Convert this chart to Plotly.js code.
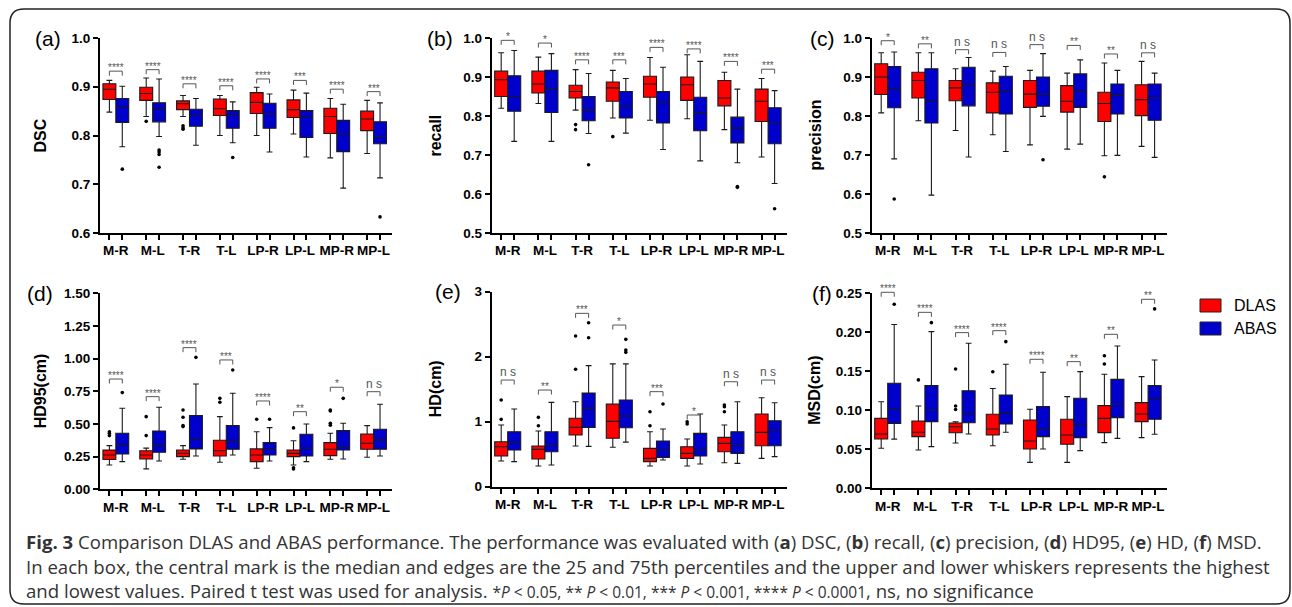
<!DOCTYPE html>
<html>
<head>
<meta charset="utf-8">
<script src="https://cdn.plot.ly/plotly-3.0.1.min.js"></script>
<style>html,body{margin:0;padding:0;background:#fff;}#chart{width:1292px;height:607px;}</style>
</head>
<body>
<div id="chart"></div>
<script>
// ---------------- DATA ----------------
const categories = ['M-R','M-L','T-R','T-L','LP-R','LP-L','MP-R','MP-L'];
const seriesNames = ['DLAS','ABAS'];
// each row: [lower whisker, q1, median, q3, upper whisker]
const dsc_DLAS = [[0.848,0.874,0.895,0.906,0.913],[0.839,0.872,0.886,0.899,0.918],[0.839,0.853,0.865,0.871,0.882],[0.800,0.841,0.855,0.875,0.882],[0.800,0.845,0.868,0.888,0.899],[0.803,0.837,0.853,0.873,0.893],[0.754,0.804,0.839,0.856,0.876],[0.763,0.810,0.834,0.850,0.872]];
const dsc_ABAS = [[0.777,0.827,0.858,0.876,0.901],[0.798,0.828,0.854,0.867,0.916],[0.780,0.819,0.841,0.854,0.876],[0.785,0.815,0.841,0.851,0.869],[0.766,0.815,0.844,0.866,0.885],[0.756,0.796,0.837,0.851,0.887],[0.692,0.767,0.803,0.831,0.864],[0.713,0.783,0.798,0.828,0.867]];
const dsc_DLAS_out = [[1,0.829],[2,0.820],[2,0.816],[2,0.813]];
const dsc_ABAS_out = [[0,0.731],[1,0.770],[1,0.766],[1,0.761],[1,0.735],[3,0.755],[7,0.633]];
const dsc_sigY = [0.932,0.935,0.906,0.902,0.916,0.913,0.895,0.890];
const dsc_sig = ['****','****','****','****','****','***','****','***'];

const recall_DLAS = [[0.820,0.850,0.893,0.915,0.962],[0.832,0.859,0.882,0.915,0.951],[0.815,0.846,0.863,0.879,0.919],[0.795,0.838,0.872,0.887,0.917],[0.789,0.848,0.882,0.902,0.950],[0.793,0.840,0.880,0.900,0.957],[0.765,0.826,0.846,0.891,0.912],[0.695,0.786,0.838,0.869,0.896]];
const recall_ABAS = [[0.735,0.812,0.848,0.903,0.968],[0.735,0.809,0.869,0.917,0.960],[0.755,0.788,0.815,0.850,0.909],[0.756,0.795,0.825,0.863,0.896],[0.714,0.782,0.836,0.863,0.925],[0.685,0.762,0.808,0.848,0.940],[0.680,0.731,0.769,0.797,0.869],[0.627,0.729,0.782,0.821,0.865]];
const recall_DLAS_out = [[2,0.778],[2,0.765],[3,0.747]];
const recall_ABAS_out = [[2,0.675],[6,0.619],[6,0.617],[7,0.562]];
const recall_sigY = [0.994,0.987,0.944,0.944,0.976,0.972,0.940,0.920];
const recall_sig = ['*','*','****','***','****','****','****','***'];

const prec_DLAS = [[0.808,0.855,0.900,0.934,0.962],[0.788,0.846,0.891,0.912,0.962],[0.763,0.839,0.872,0.891,0.921],[0.752,0.808,0.861,0.885,0.915],[0.726,0.822,0.856,0.891,0.917],[0.715,0.810,0.838,0.878,0.910],[0.698,0.786,0.832,0.861,0.936],[0.722,0.801,0.842,0.880,0.940]];
const prec_ABAS = [[0.690,0.821,0.868,0.927,0.964],[0.597,0.782,0.838,0.921,0.962],[0.695,0.826,0.879,0.925,0.950],[0.709,0.805,0.865,0.902,0.927],[0.799,0.825,0.856,0.900,0.960],[0.728,0.822,0.863,0.908,0.944],[0.699,0.805,0.853,0.882,0.917],[0.694,0.789,0.846,0.882,0.910]];
const prec_DLAS_out = [[6,0.644]];
const prec_ABAS_out = [[0,0.587],[4,0.688]];
const prec_sigY = [0.993,0.985,0.970,0.963,0.983,0.981,0.959,0.962];
const prec_sig = ['*','**','ns','ns','ns','**','**','ns'];

const hd95_DLAS = [[0.186,0.228,0.262,0.300,0.334],[0.156,0.232,0.262,0.295,0.315],[0.230,0.250,0.276,0.301,0.334],[0.207,0.255,0.295,0.375,0.556],[0.161,0.212,0.262,0.309,0.441],[0.186,0.250,0.275,0.301,0.372],[0.230,0.258,0.306,0.357,0.429],[0.245,0.306,0.352,0.423,0.487]];
const hd95_ABAS = [[0.212,0.270,0.337,0.429,0.620],[0.217,0.283,0.334,0.446,0.628],[0.255,0.309,0.383,0.564,0.806],[0.263,0.306,0.365,0.487,0.735],[0.217,0.263,0.306,0.357,0.472],[0.212,0.255,0.314,0.421,0.500],[0.232,0.301,0.327,0.449,0.505],[0.255,0.306,0.378,0.459,0.651]];
const hd95_DLAS_out = [[0,0.441],[0,0.429],[0,0.411],[1,0.556],[1,0.411],[2,0.607],[2,0.551],[2,0.487],[2,0.480],[3,0.696],[3,0.666],[4,0.536],[5,0.470],[5,0.165],[5,0.155],[6,0.607],[6,0.600],[6,0.505],[6,0.490]];
const hd95_ABAS_out = [[0,0.740],[2,1.010],[3,0.913],[4,0.536],[6,0.696]];
const hd95_sigY = [0.844,0.709,1.084,0.990,0.676,0.594,0.781,0.747];
const hd95_sig = ['****','****','****','***','****','**','*','ns'];

const hd_DLAS = [[0.395,0.472,0.615,0.692,0.949],[0.318,0.426,0.574,0.626,0.856],[0.626,0.795,0.914,1.052,1.308],[0.606,0.745,1.005,1.270,1.890],[0.318,0.385,0.436,0.590,0.846],[0.318,0.436,0.513,0.615,0.733],[0.369,0.538,0.667,0.759,0.949],[0.436,0.631,0.836,1.118,1.369]];
const hd_ABAS = [[0.385,0.564,0.682,0.846,1.195],[0.333,0.538,0.641,0.846,1.297],[0.620,0.910,1.205,1.440,1.862],[0.685,0.908,1.088,1.334,1.890],[0.410,0.451,0.564,0.703,0.887],[0.349,0.472,0.564,0.821,1.118],[0.359,0.513,0.641,0.846,1.308],[0.462,0.631,0.872,1.015,1.292]];
const hd_DLAS_out = [[0,1.333],[0,1.036],[1,1.067],[1,0.938],[2,2.318],[2,1.806],[4,1.154],[4,0.938],[5,1.000],[5,0.964],[6,1.256],[6,1.231],[6,1.154]];
const hd_ABAS_out = [[2,2.523],[2,2.292],[3,2.267],[3,2.103],[3,2.067],[4,1.272]];
const hd_sigY = [1.641,1.487,2.667,2.487,1.462,1.103,1.615,1.641];
const hd_sig = ['ns','**','***','*','***','*','ns','ns'];

const msd_DLAS = [[0.0513,0.0632,0.0697,0.0897,0.111],[0.0491,0.0662,0.0718,0.0863,0.1056],[0.058,0.0713,0.079,0.0837,0.0854],[0.0546,0.0683,0.076,0.0949,0.128],[0.0333,0.0504,0.0607,0.0876,0.1013],[0.0333,0.0564,0.0684,0.0885,0.1175],[0.0585,0.0714,0.0897,0.106,0.1462],[0.065,0.0855,0.0953,0.1098,0.1432]];
const msd_ABAS = [[0.0630,0.0833,0.1013,0.1346,0.210],[0.0534,0.0855,0.1004,0.1316,0.2009],[0.0696,0.0841,0.0955,0.125,0.186],[0.0718,0.0825,0.097,0.1197,0.159],[0.0504,0.0662,0.0761,0.1047,0.1487],[0.0483,0.065,0.0821,0.1154,0.1496],[0.0640,0.0906,0.1081,0.1397,0.1825],[0.0692,0.0885,0.1154,0.1316,0.1645]];
const msd_DLAS_out = [[1,0.139],[2,0.153],[2,0.1055],[2,0.101],[3,0.1495],[6,0.170],[6,0.1594]];
const msd_ABAS_out = [[0,0.236],[1,0.2124],[3,0.188],[7,0.230]];
const msd_sigY = [0.2513,0.2256,0.1996,0.2021,0.1654,0.1624,0.1974,0.2423];
const msd_sig = ['****','****','****','****','****','**','**','**'];

// ---------------- LAYOUT HELPERS ----------------
const W = 1292, H = 607;
const PX = x => x / W, PY = y => 1 - y / H;
const RED = '#FF0000', BLUE = '#0000CC';
const OFF = 0.175, BW = 0.35;
const TICKFONT = {family: 'Liberation Sans, Arial, sans-serif', size: 13.5, weight: 'bold', color: '#000'};

const panels = [
  {letter:'(a)', title:'DSC', d:dsc_DLAS, a:dsc_ABAS, dOut:dsc_DLAS_out, aOut:dsc_ABAS_out, sigY:dsc_sigY, sig:dsc_sig, range:[0.6,1.0], ticks:[0.6,0.7,0.8,0.9,1.0], dec:1, col:0, row:[38,233], lx:63},
  {letter:'(b)', title:'recall', d:recall_DLAS, a:recall_ABAS, dOut:recall_DLAS_out, aOut:recall_ABAS_out, sigY:recall_sigY, sig:recall_sig, range:[0.5,1.0], ticks:[0.5,0.6,0.7,0.8,0.9,1.0], dec:1, col:1, row:[38,233], lx:455},
  {letter:'(c)', title:'precision', d:prec_DLAS, a:prec_ABAS, dOut:prec_DLAS_out, aOut:prec_ABAS_out, sigY:prec_sigY, sig:prec_sig, range:[0.5,1.0], ticks:[0.5,0.6,0.7,0.8,0.9,1.0], dec:1, col:2, row:[38,233], lx:837},
  {letter:'(d)', title:'HD95(cm)', d:hd95_DLAS, a:hd95_ABAS, dOut:hd95_DLAS_out, aOut:hd95_ABAS_out, sigY:hd95_sigY, sig:hd95_sig, range:[0,1.5], ticks:[0,0.25,0.5,0.75,1.0,1.25,1.5], dec:2, col:0, row:[293.3,489.3], lx:55},
  {letter:'(e)', title:'HD(cm)', d:hd_DLAS, a:hd_ABAS, dOut:hd_DLAS_out, aOut:hd_ABAS_out, sigY:hd_sigY, sig:hd_sig, range:[0,3], ticks:[0,1,2,3], dec:0, col:1, row:[291.7,486.7], lx:463},
  {letter:'(f)', title:'MSD(cm)', d:msd_DLAS, a:msd_ABAS, dOut:msd_DLAS_out, aOut:msd_ABAS_out, sigY:msd_sigY, sig:msd_sig, range:[0,0.25], ticks:[0,0.05,0.1,0.15,0.2,0.25], dec:2, col:2, row:[293.3,488.3], lx:834}
];
const cols = [[100,392],[491.7,786.7],[871.7,1166.7]];
const titleX = [40, 435, 815];

const traces = [];
const shapes = [];
const annotations = [];
const layout = {
  width: W, height: H,
  margin: {l:0, r:0, t:0, b:0},
  paper_bgcolor: '#fff', plot_bgcolor: 'rgba(0,0,0,0)',
  showlegend: false,
  font: {family: 'Liberation Sans, Arial, sans-serif', color: '#000'}
};

const catIdx = categories.map((c, i) => i);
const minorVals = [];
catIdx.forEach(i => { minorVals.push(i - OFF, i + OFF); });

panels.forEach((p, k) => {
  const n = k === 0 ? '' : String(k + 1);
  const xa = 'x' + n, ya = 'y' + n;
  const c = cols[p.col];
  layout['xaxis' + n] = {
    domain: [PX(c[0]), PX(c[1])], anchor: ya,
    range: [-0.43, 7.5], fixedrange: true,
    tickmode: 'array', tickvals: catIdx, ticktext: categories, tickangle: 0,
    ticks: '', showgrid: false, zeroline: false, ticklabelstandoff: 4,
    showline: true, linecolor: '#000', linewidth: 2,
    tickfont: TICKFONT,
    minor: {tickmode: 'array', tickvals: minorVals, ticks: 'outside', ticklen: 5, tickwidth: 2, tickcolor: '#000', showgrid: false}
  };
  layout['yaxis' + n] = {
    domain: [PY(p.row[1]), PY(p.row[0])], anchor: xa,
    range: p.range, fixedrange: true,
    tickmode: 'array', tickvals: p.ticks, ticktext: p.ticks.map(v => v.toFixed(p.dec)),
    ticks: 'outside', ticklen: 5, tickwidth: 2, tickcolor: '#000',
    showgrid: false, zeroline: false,
    showline: true, linecolor: '#000', linewidth: 2,
    tickfont: TICKFONT
  };

  [[p.d, RED, -OFF, p.dOut], [p.a, BLUE, OFF, p.aOut]].forEach(([rows, color, off, outs]) => {
    traces.push({
      type: 'box', xaxis: xa, yaxis: ya,
      x: catIdx.map(i => i + off),
      lowerfence: rows.map(r => r[0]), q1: rows.map(r => r[1]), median: rows.map(r => r[2]),
      q3: rows.map(r => r[3]), upperfence: rows.map(r => r[4]),
      width: BW, whiskerwidth: 0.45, fillcolor: color,
      line: {color: '#1a1a1a', width: 1.1},
      boxpoints: false, hoverinfo: 'skip', showlegend: false
    });
    traces.push({
      type: 'scatter', mode: 'markers', xaxis: xa, yaxis: ya,
      x: outs.map(o => o[0] + off), y: outs.map(o => o[1]),
      marker: {color: '#000', size: 3.6}, hoverinfo: 'skip', showlegend: false, cliponaxis: false
    });
  });

  // significance brackets
  const r0 = p.range[0], r1 = p.range[1];
  const frac = v => (v - r0) / (r1 - r0);
  const drop = 4.5 / (p.row[1] - p.row[0]);
  p.sigY.forEach((v, i) => {
    const top = frac(v), bot = top - drop;
    const ln = {color: '#555', width: 1};
    shapes.push({type:'line', xref: xa, yref: ya + ' domain', x0: i - OFF, x1: i - OFF, y0: bot, y1: top, line: ln});
    shapes.push({type:'line', xref: xa, yref: ya + ' domain', x0: i - OFF, x1: i + OFF, y0: top, y1: top, line: ln});
    shapes.push({type:'line', xref: xa, yref: ya + ' domain', x0: i + OFF, x1: i + OFF, y0: top, y1: bot, line: ln});
    const isNs = p.sig[i] === 'ns';
    annotations.push({
      xref: xa, yref: ya + ' domain', x: i, y: top, yanchor: 'bottom', xanchor: 'center',
      text: isNs ? 'n s' : p.sig[i], showarrow: false,
      yshift: isNs ? -1 : -4,
      font: {family: 'Liberation Sans, Arial, sans-serif', size: isNs ? 12 : 10, color: '#555'}
    });
  });

  // panel letter
  annotations.push({
    xref: 'paper', yref: 'paper', x: PX(p.lx), y: PY(p.row[0]), xanchor: 'right', yanchor: 'middle',
    text: p.letter, showarrow: false,
    font: {family: 'Liberation Sans, Arial, sans-serif', size: 21, color: '#000'}
  });
  // y-axis title
  annotations.push({
    xref: 'paper', yref: 'paper', x: PX(titleX[p.col]), y: PY((p.row[0] + p.row[1]) / 2),
    xanchor: 'center', yanchor: 'middle', textangle: -90, text: p.title, showarrow: false,
    font: {family: 'Liberation Sans, Arial, sans-serif', size: 16, weight: 'bold', color: '#000'}
  });
});

// legend
[[seriesNames[0], RED, 305.5], [seriesNames[1], BLUE, 328.5]].forEach(([name, color, cy]) => {
  shapes.push({type: 'rect', xref: 'paper', yref: 'paper', x0: PX(1200), x1: PX(1221), y0: PY(cy + 6.5), y1: PY(cy - 6.5),
    fillcolor: color, line: {color: '#222', width: 1}});
  annotations.push({xref: 'paper', yref: 'paper', x: PX(1232), y: PY(cy), xanchor: 'left', yanchor: 'middle',
    text: name, showarrow: false, font: {family: 'Liberation Sans, Arial, sans-serif', size: 16, color: '#000'}});
});

// rounded outer frame
(function () {
  const x0 = 10, x1 = 1290, y0 = 9, y1 = 604, r = 14;
  const P = (x, y) => PX(x) + ',' + PY(y);
  const path = 'M ' + P(x0 + r, y0) + ' L ' + P(x1 - r, y0) + ' Q ' + P(x1, y0) + ' ' + P(x1, y0 + r) +
    ' L ' + P(x1, y1 - r) + ' Q ' + P(x1, y1) + ' ' + P(x1 - r, y1) +
    ' L ' + P(x0 + r, y1) + ' Q ' + P(x0, y1) + ' ' + P(x0, y1 - r) +
    ' L ' + P(x0, y0 + r) + ' Q ' + P(x0, y0) + ' ' + P(x0 + r, y0) + ' Z';
  shapes.push({type: 'path', xref: 'paper', yref: 'paper', path: path, line: {color: '#222', width: 1.5}});
})();

// caption
const captionLines = [
  '<b>Fig. 3</b> Comparison DLAS and ABAS performance. The performance was evaluated with (<b>a</b>) DSC, (<b>b</b>) recall, (<b>c</b>) precision, (<b>d</b>) HD95, (<b>e</b>) HD, (<b>f</b>) MSD.',
  'In each box, the central mark is the median and edges are the 25 and 75th percentiles and the upper and lower whiskers represents the highest',
  'and lowest values. Paired t test was used for analysis. <span style="font-size:15.5px">*<i>P</i> &lt; 0.05, ** <i>P</i> &lt; 0.01, *** <i>P</i> &lt; 0.001, **** <i>P</i> &lt; 0.0001</span>, ns, no significance'
];
const captionY = [541, 566, 590];
captionLines.forEach((t, i) => {
  annotations.push({xref: 'paper', yref: 'paper', x: PX(24), y: PY(captionY[i]), xanchor: 'left', yanchor: 'middle',
    text: t, showarrow: false, align: 'left',
    font: {family: 'Open Sans, Noto Sans, sans-serif', size: 18.6, color: '#333'}});
});

layout.shapes = shapes;
layout.annotations = annotations;

Plotly.newPlot('chart', traces, layout, {staticPlot: true, displayModeBar: false});
</script>
</body>
</html>
